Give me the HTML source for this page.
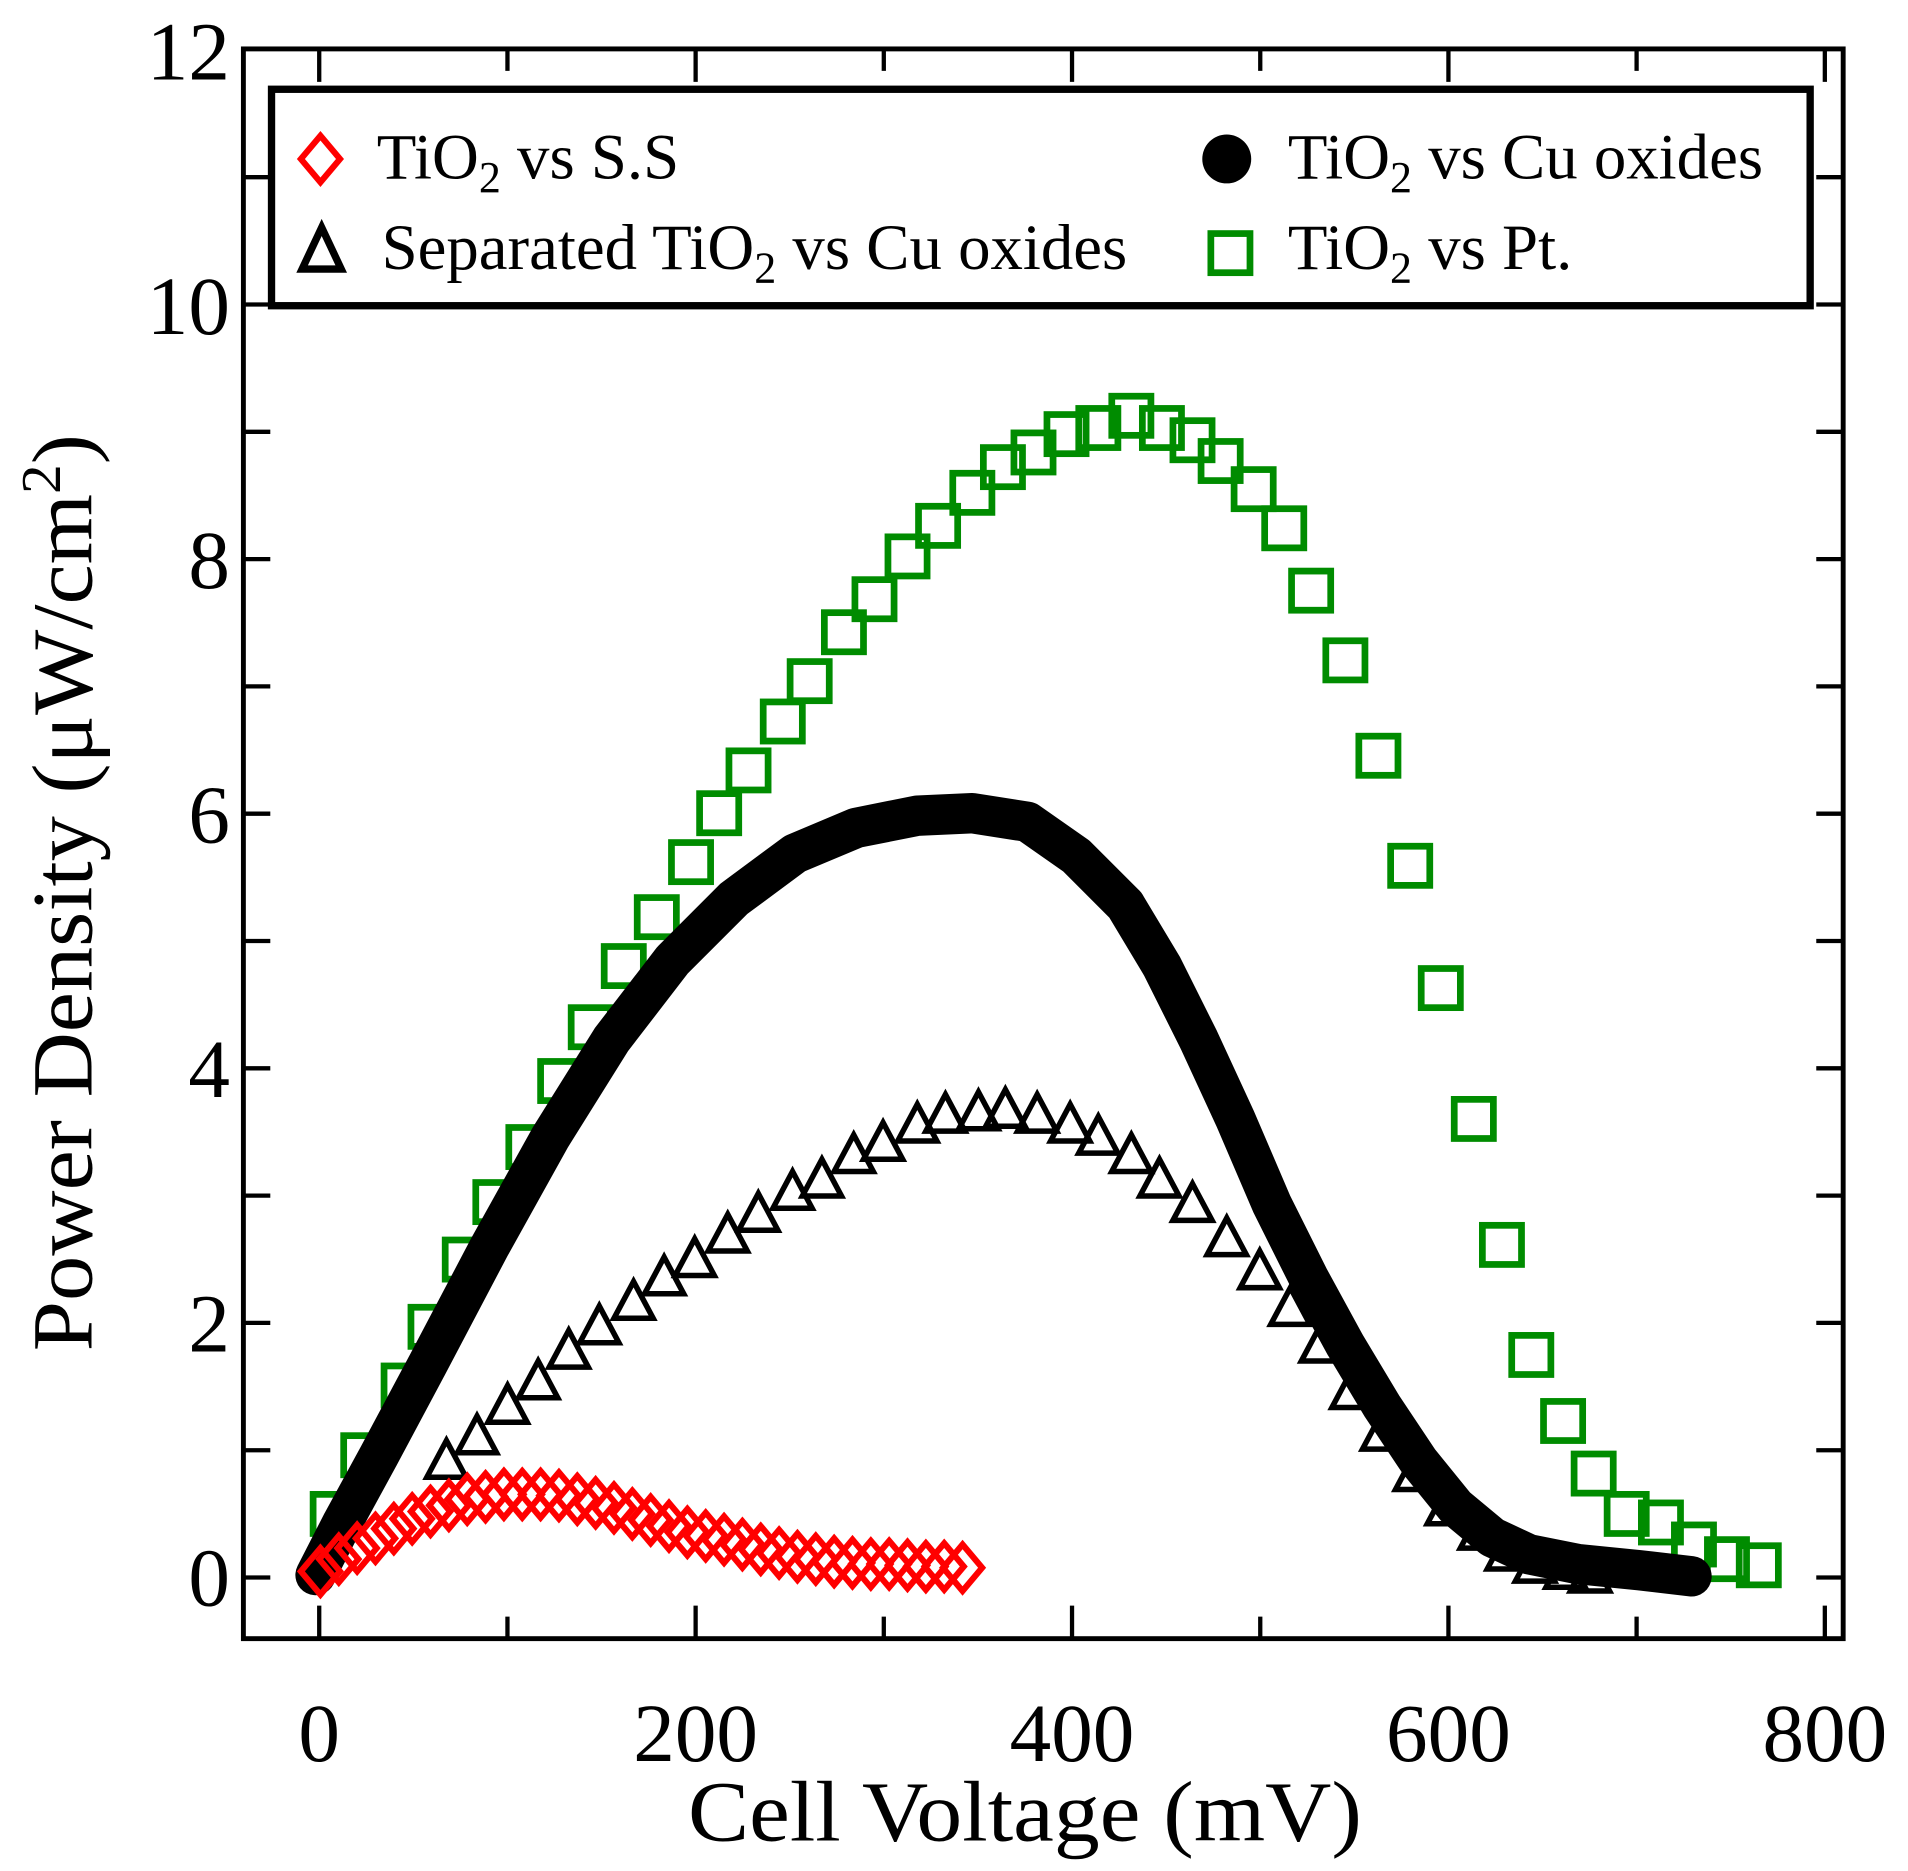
<!DOCTYPE html>
<html><head><meta charset="utf-8"><style>html,body{margin:0;padding:0;background:#fff}svg{display:block}</style></head>
<body>
<svg width="1908" height="1871" viewBox="0 0 1560 1530" preserveAspectRatio="none" xmlns="http://www.w3.org/2000/svg">
<defs>
<polygon id="dm" points="0,-19 16,0 0,19 -16,0" fill="none" stroke="#ff0000" stroke-width="5"/>
<rect id="sq" x="-16" y="-16" width="32" height="32" fill="none" stroke="#008c00" stroke-width="5.5"/>
<polygon id="tr" points="0,-17 16,13 -16,13" fill="none" stroke="#000" stroke-width="4.5" stroke-linejoin="miter"/>
</defs>
<rect width="1560" height="1530" fill="#fff"/>
<g stroke="#000" stroke-width="3.5">
<path d="M261,1340v-27M568.75,1340v-27M876.5,1340v-27M1184.25,1340v-27M1492,1340v-27
M414.9,1340v-18M722.6,1340v-18M1030.4,1340v-18M1338.1,1340v-18
M261,40v27M568.75,40v27M876.5,40v27M1184.25,40v27M1492,40v27
M414.9,40v18M722.6,40v18M1030.4,40v18M1338.1,40v18"/>
<path d="M199,1290h22M199,1185.9h22M199,1081.8h22M199,977.7h22M199,873.6h22M199,769.5h22M199,665.4h22M199,561.3h22M199,457.2h22M199,353.1h22M199,249h22M199,144.9h22
M1507,1290h-22M1507,1185.9h-22M1507,1081.8h-22M1507,977.7h-22M1507,873.6h-22M1507,769.5h-22M1507,665.4h-22M1507,561.3h-22M1507,457.2h-22M1507,353.1h-22M1507,249h-22M1507,144.9h-22"/>
</g>
<rect x="199" y="40" width="1308" height="1300" fill="none" stroke="#000" stroke-width="4"/>
<g font-family="Liberation Serif, serif" font-size="68" fill="#000" text-anchor="end">
<text x="188" y="1313">0</text><text x="188" y="1105">2</text><text x="188" y="897">4</text><text x="188" y="689">6</text><text x="188" y="481">8</text><text x="188" y="273">10</text><text x="188" y="65">12</text>
</g>
<g font-family="Liberation Serif, serif" font-size="68" fill="#000" text-anchor="middle">
<text x="261" y="1440">0</text><text x="568.75" y="1440">200</text><text x="876.5" y="1440">400</text><text x="1184.25" y="1440">600</text><text x="1492" y="1440">800</text>
</g>
<text x="838" y="1505" font-family="Liberation Serif, serif" font-size="70" text-anchor="middle" textLength="551" lengthAdjust="spacingAndGlyphs">Cell Voltage (mV)</text>
<text transform="translate(75,730) rotate(-90)" font-family="Liberation Serif, serif" font-size="70" text-anchor="middle" textLength="750" lengthAdjust="spacingAndGlyphs">Power Density (μW/cm<tspan dy="-26" font-size="46">2</tspan><tspan dy="26">)</tspan></text>
<rect x="222" y="73" width="1258" height="177" fill="#fff" stroke="#000" stroke-width="6"/>
<use href="#dm" x="262" y="130"/>
<polygon points="263,186 279,220 247,220" fill="none" stroke="#000" stroke-width="6"/>
<circle cx="1003" cy="130" r="20" fill="#000"/>
<use href="#sq" x="1006" y="207"/>
<g font-family="Liberation Serif, serif" font-size="53" fill="#000">
<text x="308" y="146">TiO<tspan font-size="36" dy="11">2</tspan><tspan dy="-11"> vs S.S</tspan></text>
<text x="312" y="220">Separated TiO<tspan font-size="36" dy="11">2</tspan><tspan dy="-11"> vs Cu oxides</tspan></text>
<text x="1053" y="146">TiO<tspan font-size="36" dy="11">2</tspan><tspan dy="-11"> vs Cu oxides</tspan></text>
<text x="1053" y="220">TiO<tspan font-size="36" dy="11">2</tspan><tspan dy="-11"> vs Pt.</tspan></text>
</g>
<g>
<use href="#sq" x="272" y="1238"/><use href="#sq" x="297" y="1190"/><use href="#sq" x="330" y="1133"/><use href="#sq" x="352" y="1085"/><use href="#sq" x="380" y="1030"/><use href="#sq" x="405" y="983"/><use href="#sq" x="432" y="938"/><use href="#sq" x="458" y="884"/><use href="#sq" x="483" y="840"/><use href="#sq" x="510" y="790"/><use href="#sq" x="537" y="750"/><use href="#sq" x="565" y="705"/><use href="#sq" x="588" y="665"/><use href="#sq" x="612" y="630"/><use href="#sq" x="640" y="590"/><use href="#sq" x="662" y="557"/><use href="#sq" x="690" y="517"/><use href="#sq" x="715" y="490"/><use href="#sq" x="742" y="455"/><use href="#sq" x="767" y="430"/><use href="#sq" x="795" y="403"/><use href="#sq" x="820" y="382"/><use href="#sq" x="845" y="370"/><use href="#sq" x="872" y="355"/><use href="#sq" x="898" y="350"/><use href="#sq" x="925" y="340"/><use href="#sq" x="950" y="350"/><use href="#sq" x="975" y="360"/><use href="#sq" x="998" y="377"/><use href="#sq" x="1025" y="400"/><use href="#sq" x="1050" y="432"/><use href="#sq" x="1072" y="483"/><use href="#sq" x="1100" y="540"/><use href="#sq" x="1127" y="618"/><use href="#sq" x="1153" y="708"/><use href="#sq" x="1178" y="808"/><use href="#sq" x="1205" y="915"/><use href="#sq" x="1228" y="1018"/><use href="#sq" x="1252" y="1108"/><use href="#sq" x="1278" y="1162"/><use href="#sq" x="1303" y="1205"/><use href="#sq" x="1330" y="1238"/><use href="#sq" x="1358" y="1245"/><use href="#sq" x="1385" y="1263"/><use href="#sq" x="1412" y="1275"/><use href="#sq" x="1438" y="1280"/>
</g>
<polyline fill="none" stroke="#000" stroke-width="33" stroke-linejoin="round" stroke-linecap="round"
points="258,1288 280,1245 310,1190 350,1115 400,1020 450,930 500,850 550,785 600,735 650,698 700,677 750,667 795,665 840,672 880,700 920,740 950,790 980,850 1010,915 1040,985 1070,1045 1100,1100 1130,1150 1160,1195 1190,1232 1220,1257 1250,1271 1290,1279 1340,1284 1383,1289"/>
<g>
<use href="#tr" x="365" y="1195"/><use href="#tr" x="390" y="1175"/><use href="#tr" x="415" y="1150"/><use href="#tr" x="440" y="1130"/><use href="#tr" x="465" y="1105"/><use href="#tr" x="490" y="1085"/><use href="#tr" x="518" y="1065"/><use href="#tr" x="543" y="1045"/><use href="#tr" x="568" y="1030"/><use href="#tr" x="595" y="1010"/><use href="#tr" x="620" y="993"/><use href="#tr" x="648" y="975"/><use href="#tr" x="672" y="965"/><use href="#tr" x="698" y="945"/><use href="#tr" x="722" y="935"/><use href="#tr" x="750" y="920"/><use href="#tr" x="773" y="912"/><use href="#tr" x="800" y="910"/><use href="#tr" x="822" y="908"/><use href="#tr" x="848" y="912"/><use href="#tr" x="875" y="920"/><use href="#tr" x="898" y="930"/><use href="#tr" x="925" y="945"/><use href="#tr" x="948" y="965"/><use href="#tr" x="975" y="985"/><use href="#tr" x="1003" y="1013"/><use href="#tr" x="1030" y="1040"/><use href="#tr" x="1055" y="1070"/><use href="#tr" x="1080" y="1100"/><use href="#tr" x="1105" y="1138"/><use href="#tr" x="1130" y="1172"/><use href="#tr" x="1157" y="1205"/><use href="#tr" x="1183" y="1233"/><use href="#tr" x="1210" y="1253"/><use href="#tr" x="1232" y="1270"/><use href="#tr" x="1255" y="1280"/><use href="#tr" x="1280" y="1285"/><use href="#tr" x="1300" y="1288"/>
</g>
<g>
<use href="#dm" x="262" y="1285"/><use href="#dm" x="277" y="1275"/><use href="#dm" x="292" y="1266"/><use href="#dm" x="307" y="1258"/><use href="#dm" x="322" y="1250"/><use href="#dm" x="337" y="1242"/><use href="#dm" x="352" y="1236"/><use href="#dm" x="367" y="1231"/><use href="#dm" x="382" y="1226"/><use href="#dm" x="397" y="1224"/><use href="#dm" x="412" y="1222"/><use href="#dm" x="427" y="1222"/><use href="#dm" x="442" y="1222"/><use href="#dm" x="457" y="1223"/><use href="#dm" x="472" y="1226"/><use href="#dm" x="487" y="1229"/><use href="#dm" x="502" y="1233"/><use href="#dm" x="517" y="1238"/><use href="#dm" x="532" y="1243"/><use href="#dm" x="547" y="1248"/><use href="#dm" x="562" y="1253"/><use href="#dm" x="577" y="1256"/><use href="#dm" x="592" y="1259"/><use href="#dm" x="607" y="1263"/><use href="#dm" x="622" y="1267"/><use href="#dm" x="637" y="1270"/><use href="#dm" x="652" y="1273"/><use href="#dm" x="667" y="1275"/><use href="#dm" x="682" y="1277"/><use href="#dm" x="697" y="1278"/><use href="#dm" x="712" y="1279"/><use href="#dm" x="727" y="1279"/><use href="#dm" x="742" y="1280"/><use href="#dm" x="757" y="1281"/><use href="#dm" x="772" y="1281"/><use href="#dm" x="787" y="1282"/>
</g>
</svg>
</body></html>
